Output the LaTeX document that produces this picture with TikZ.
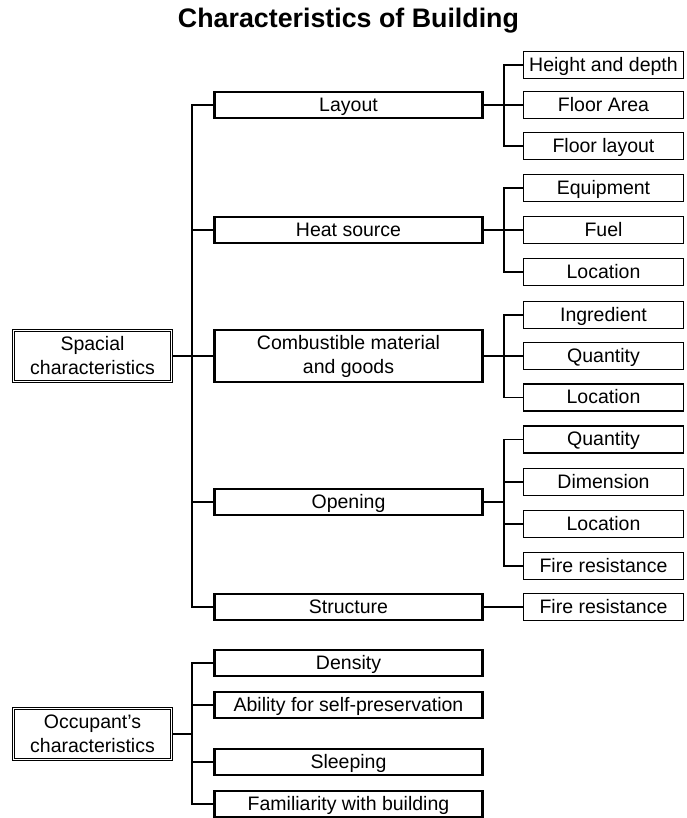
\documentclass[tikz,border=0pt]{standalone}
\usepackage{fontspec}
\setmainfont{Liberation Sans}
\begin{document}
\begin{tikzpicture}[x=1pt,y=-1pt,
  every node/.style={font=\fontsize{19.5}{24}\selectfont, inner sep=0pt, align=center},
  groupbox/.style={draw, double, double distance=1.6pt, line width=0.8pt,
    minimum width=158pt, minimum height=51pt},
  midbox/.style={draw, line width=2.6pt, minimum width=268pt, minimum height=26pt},
  leafbox/.style={draw, line width=1.1pt, minimum width=160pt, minimum height=27pt},
  oneline/.style={text height=14pt, text depth=1.5pt},
  link/.style={line width=1.1pt},
  stub/.style={line width=2pt}]
\useasboundingbox (0,0) rectangle (687,818);

% title
\node[font=\fontsize{26.8}{31}\selectfont\bfseries, anchor=base] (title) at (348.5,28)
  {Characteristics of Building};

% spine positions
\coordinate (s1) at (192,0);
\coordinate (s2) at (504,0);

% top-level groups
\node[groupbox] (spa) at (92.5,356) {Spacial\\characteristics};
\node[groupbox] (occ) at (92.5,734) {Occupant\char"0027 s\\characteristics};

% spacial characteristics
\node[midbox,oneline] (lay) at (348.5,105) {Layout};
\node[midbox,oneline] (heat) at (348.5,230) {Heat source};
\node[midbox,minimum height=52pt] (comb) at (348.5,356) {Combustible material\\and goods};
\node[midbox,oneline] (open) at (348.5,502) {Opening};
\node[midbox,oneline] (str) at (348.5,607) {Structure};

% occupant's characteristics
\node[midbox,oneline] (den) at (348.5,663) {Density};
\node[midbox,oneline] (abil) at (348.5,705) {Ability for self-preservation};
\node[midbox,oneline] (sleep) at (348.5,762) {Sleeping};
\node[midbox,oneline] (fam) at (348.5,804) {Familiarity with building};

% leaves
\node[leafbox,oneline] (lay1) at (603.5,65) {Height and depth};
\node[leafbox,oneline] (lay2) at (603.5,105) {Floor Area};
\node[leafbox,oneline] (lay3) at (603.5,146) {Floor layout};
\node[leafbox,oneline] (heat1) at (603.5,188) {Equipment};
\node[leafbox,oneline] (heat2) at (603.5,230) {Fuel};
\node[leafbox,oneline] (heat3) at (603.5,272) {Location};
\node[leafbox,oneline] (comb1) at (603.5,315) {Ingredient};
\node[leafbox,oneline] (comb2) at (603.5,356) {Quantity};
\node[leafbox,oneline] (comb3) at (603.5,397.5) {Location};
\node[leafbox,oneline] (open1) at (603.5,439.5) {Quantity};
\node[leafbox,oneline] (open2) at (603.5,482) {Dimension};
\node[leafbox,oneline] (open3) at (603.5,524) {Location};
\node[leafbox,oneline] (open4) at (603.5,566) {Fire resistance};
\node[leafbox,oneline] (str1) at (603.5,607) {Fire resistance};

% left tree
\draw[stub] (spa.east) -- (spa.east -| s1);
\draw[link] (lay.west) -- (lay.west -| s1) -- (str.west -| s1) -- (str.west);
\foreach \n in {heat,comb,open} \draw[link] (\n.west -| s1) -- (\n.west);

\draw[stub] (occ.east) -- (occ.east -| s1);
\draw[link] (den.west) -- (den.west -| s1) -- (fam.west -| s1) -- (fam.west);
\foreach \n in {abil,sleep} \draw[link] (\n.west -| s1) -- (\n.west);

% right trees
\draw[stub] (lay.east) -- (lay.east -| s2);
\draw[link] (lay1.west) -- (lay1.west -| s2) -- (lay3.west -| s2) -- (lay3.west);
\draw[link] (lay2.west -| s2) -- (lay2.west);

\draw[stub] (heat.east) -- (heat.east -| s2);
\draw[link] (heat1.west) -- (heat1.west -| s2) -- (heat3.west -| s2) -- (heat3.west);
\draw[link] (heat2.west -| s2) -- (heat2.west);

\draw[stub] (comb.east) -- (comb.east -| s2);
\draw[link] (comb1.west) -- (comb1.west -| s2) -- (comb3.west -| s2) -- (comb3.west);
\draw[link] (comb2.west -| s2) -- (comb2.west);

\draw[stub] (open.east) -- (open.east -| s2);
\draw[link] (open1.west) -- (open1.west -| s2) -- (open4.west -| s2) -- (open4.west);
\foreach \n in {open2,open3} \draw[link] (\n.west -| s2) -- (\n.west);

\draw[link] (str.east) -- (str1.west);
\end{tikzpicture}
\end{document}
